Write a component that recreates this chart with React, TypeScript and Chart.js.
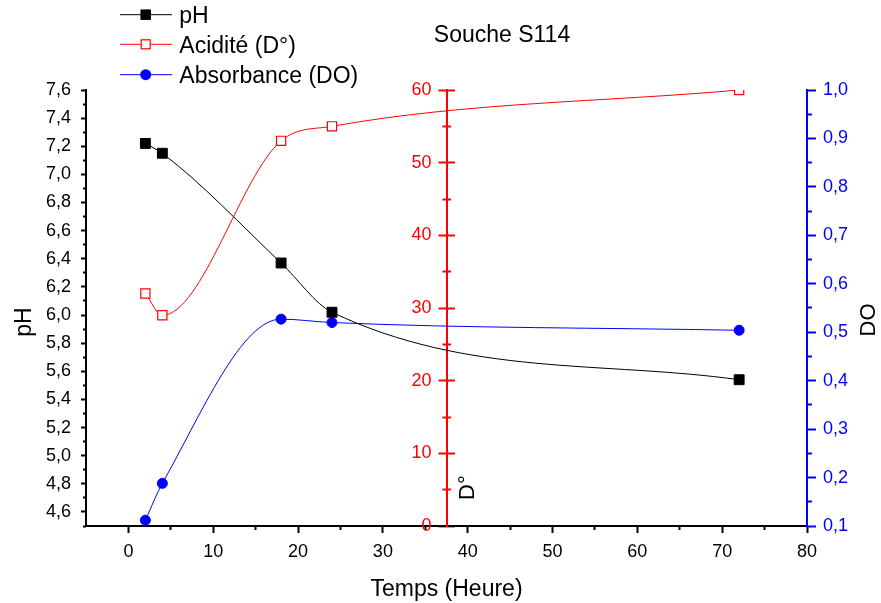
import React, { useEffect, useRef } from "react";
import { Chart, registerables } from "chart.js";

Chart.register(...registerables);

// ---- data ----
const hours = [2, 4, 18, 24, 72];
const phValues = [7.22, 7.15, 6.37, 6.02, 5.54];
const acidityValues = [32.0, 29.0, 53.0, 55.0, 60.0];
const absorbanceValues = [0.112, 0.188, 0.527, 0.52, 0.504];

// ---- ticks ----
const timeTicks = [0, 10, 20, 30, 40, 50, 60, 70, 80];
const timeMinorTicks = [5, 15, 25, 35, 45, 55, 65, 75];
const phTicks = [4.6, 4.8, 5.0, 5.2, 5.4, 5.6, 5.8, 6.0, 6.2, 6.4, 6.6, 6.8, 7.0, 7.2, 7.4, 7.6];
const phMinorTicks = [4.5, 4.7, 4.9, 5.1, 5.3, 5.5, 5.7, 5.9, 6.1, 6.3, 6.5, 6.7, 6.9, 7.1, 7.3, 7.5];
const acidityTicks = [0, 10, 20, 30, 40, 50, 60];
const acidityMinorTicks = [5, 15, 25, 35, 45, 55];
const doTicks = [0.1, 0.2, 0.3, 0.4, 0.5, 0.6, 0.7, 0.8, 0.9, 1.0];
const doMinorTicks = [0.15, 0.25, 0.35, 0.45, 0.55, 0.65, 0.75, 0.85, 0.95];

// ---- texts ----
const chartTitle = "Souche S114";
const xTitle = "Temps (Heure)";
const phTitle = "pH";
const acidityTitle = "D°";
const doTitle = "DO";
const seriesLabels = ["pH", "Acidité (D°)", "Absorbance (DO)"];
const acidityAxisAt = 37.5;

const FONT = "'Liberation Sans', Arial, Helvetica, sans-serif";
const BLACK = "#000000";
const RED = "#ff0000";
const BLUE = "#0000ff";
const TICK_FONT = { family: FONT, size: 18 };

const setTicks = (values: number[]) => (scale: any) => {
  scale.ticks = values.map((v) => ({ value: v }));
};
const comma = (v: any) => Number(v).toFixed(1).replace(".", ",");
const plain = (v: any) => String(Math.round(Number(v)));

function minorScale(axis: string, position: string, weight: number, min: number, max: number, values: number[], len: number, color: string) {
  return {
    type: "linear",
    axis,
    position,
    weight,
    min,
    max,
    afterBuildTicks: setTicks(values),
    afterFit: (s: any) => {
      if (axis === "x") s.height = 0;
      else s.width = 0;
    },
    grid: { drawOnChartArea: false, tickLength: len, tickWidth: 2, tickColor: color },
    border: { display: false },
    ticks: { display: false, autoSkip: false },
  };
}

const textPlugin = {
  id: "customTexts",
  afterLayout(chart: any) {
    const xs = chart.scales.x;
    const ax = xs.getPixelForValue(acidityAxisAt);
    const moves: [string, number][] = [
      ["yD", 8],
      ["yDMinor", 4],
      ["yDLine", 0],
    ];
    moves.forEach(([id, off]) => {
      const s = chart.scales[id];
      if (!s) return;
      s.right = ax + off;
      s.left = ax + off - 80;
      s.width = 80;
      s._gridLineItems = null;
      s._labelItems = null;
    });
  },
  afterDraw(chart: any) {
    const ctx = chart.ctx;
    ctx.save();
    // chart title
    ctx.fillStyle = BLACK;
    ctx.font = `23px ${FONT}`;
    ctx.textAlign = "center";
    ctx.textBaseline = "alphabetic";
    ctx.fillText(chartTitle, 502, 42);

    // rotated axis titles
    const rot = (text: string, x: number, y: number, align: CanvasTextAlign, size: number) => {
      ctx.save();
      ctx.translate(x, y);
      ctx.rotate(-Math.PI / 2);
      ctx.font = `${size}px ${FONT}`;
      ctx.textAlign = align;
      ctx.textBaseline = "alphabetic";
      ctx.fillStyle = BLACK;
      ctx.fillText(text, 0, 0);
      ctx.restore();
    };
    rot(phTitle, 31, 322, "center", 23);
    rot(acidityTitle, 474, 500, "left", 22);
    rot(doTitle, 875, 320, "center", 22);

    // legend
    const ds = chart.data.datasets;
    const rowsY = [14.7, 44.3, 74.7];
    ds.forEach((d: any, i: number) => {
      const y = rowsY[i];
      ctx.strokeStyle = d.borderColor;
      ctx.lineWidth = 1;
      ctx.beginPath();
      ctx.moveTo(120, y);
      ctx.lineTo(172, y);
      ctx.stroke();
      const cx = 145.7;
      ctx.lineWidth = 1.2;
      if (d.pointStyle === "circle") {
        ctx.beginPath();
        ctx.arc(cx, y, 5.5, 0, Math.PI * 2);
        ctx.fillStyle = d.pointBackgroundColor;
        ctx.fill();
      } else {
        ctx.fillStyle = d.pointBackgroundColor;
        ctx.fillRect(cx - 5, y - 5, 10, 10);
        ctx.strokeStyle = d.pointBorderColor;
        ctx.strokeRect(cx - 4.5, y - 4.5, 9, 9);
      }
      ctx.fillStyle = BLACK;
      ctx.font = `23px ${FONT}`;
      ctx.textAlign = "left";
      ctx.textBaseline = "alphabetic";
      ctx.fillText(d.label, 179.3, y + 8.5);
    });
    ctx.restore();
  },
};

export default function App() {
  const ref = useRef<HTMLCanvasElement | null>(null);

  useEffect(() => {
    if (!ref.current) return;
    const toPts = (vals: number[]) => hours.map((h, i) => ({ x: h, y: vals[i] }));
    const chart = new Chart(ref.current, {
      type: "line",
      data: {
        datasets: [
          {
            label: seriesLabels[0],
            data: toPts(phValues),
            xAxisID: "x",
            yAxisID: "y",
            borderColor: BLACK,
            borderWidth: 1,
            cubicInterpolationMode: "monotone",
            pointStyle: "rect",
            pointRadius: 7,
            pointBackgroundColor: BLACK,
            pointBorderColor: BLACK,
            pointBorderWidth: 1,
          },
          {
            label: seriesLabels[1],
            data: toPts(acidityValues),
            xAxisID: "x",
            yAxisID: "yD",
            borderColor: RED,
            borderWidth: 1,
            cubicInterpolationMode: "monotone",
            pointStyle: "rect",
            pointRadius: 6.5,
            pointBackgroundColor: "#ffffff",
            pointBorderColor: RED,
            pointBorderWidth: 1.2,
          },
          {
            label: seriesLabels[2],
            data: toPts(absorbanceValues),
            xAxisID: "x",
            yAxisID: "yDO",
            borderColor: BLUE,
            borderWidth: 1,
            cubicInterpolationMode: "monotone",
            pointStyle: "circle",
            pointRadius: 5,
            pointBackgroundColor: BLUE,
            pointBorderColor: BLUE,
            pointBorderWidth: 1,
          },
        ],
      },
      options: {
        responsive: false,
        animation: false,
        devicePixelRatio: 1,
        layout: { padding: { top: 90, left: 0, right: 0, bottom: 0 } },
        plugins: {
          legend: { display: false },
          title: { display: false },
          tooltip: { enabled: false },
        },
        scales: {
          x: {
            type: "linear",
            position: "bottom",
            weight: 10,
            min: -5,
            max: 80,
            afterBuildTicks: setTicks(timeTicks),
            afterFit: (s: any) => {
              s.height = 77;
            },
            grid: { drawOnChartArea: false, tickLength: 7, tickWidth: 2, tickColor: BLACK },
            border: { color: BLACK, width: 2 },
            ticks: { color: BLACK, font: TICK_FONT, padding: 8, autoSkip: false, maxRotation: 0, callback: plain },
            title: { display: true, text: xTitle, color: BLACK, font: { family: FONT, size: 23 }, padding: { top: 0, bottom: 0 } },
          },
          xMinor: minorScale("x", "bottom", 0, -5, 80, timeMinorTicks, 4, BLACK),
          y: {
            type: "linear",
            position: "left",
            weight: 10,
            min: 4.5,
            max: 7.6,
            afterBuildTicks: setTicks(phTicks),
            afterFit: (s: any) => {
              s.width = 86;
            },
            grid: { drawOnChartArea: false, tickLength: 5, tickWidth: 2, tickColor: BLACK },
            border: { color: BLACK, width: 2 },
            ticks: { color: BLACK, font: TICK_FONT, padding: 10, autoSkip: false, callback: comma },
          },
          yMinor: minorScale("y", "left", 5, 4.5, 7.6, phMinorTicks, 3, BLACK),
          yD: {
            type: "linear",
            axis: "y",
            position: "left",
            weight: 0,
            min: 0,
            max: 60,
            afterBuildTicks: setTicks(acidityTicks),
            afterFit: (s: any) => {
              s.width = 0;
            },
            grid: { drawOnChartArea: false, tickLength: 16, tickWidth: 2, tickColor: RED },
            border: { display: false },
            ticks: { color: RED, font: TICK_FONT, padding: 7, autoSkip: false, callback: plain },
          },
          yDMinor: minorScale("y", "left", 0, 0, 60, acidityMinorTicks, 8, RED),
          yDLine: {
            type: "linear",
            axis: "y",
            position: "left",
            weight: 0,
            min: 0,
            max: 60,
            afterBuildTicks: setTicks(acidityTicks),
            afterFit: (s: any) => {
              s.width = 0;
            },
            grid: { drawOnChartArea: false, drawTicks: false },
            border: { color: RED, width: 2 },
            ticks: { display: false },
          },
          yDO: {
            type: "linear",
            axis: "y",
            position: "right",
            weight: 10,
            min: 0.1,
            max: 1.0,
            afterBuildTicks: setTicks(doTicks),
            afterFit: (s: any) => {
              s.width = 74;
            },
            grid: { drawOnChartArea: false, tickLength: 9, tickWidth: 2, tickColor: BLUE },
            border: { color: BLUE, width: 2 },
            ticks: { color: BLUE, font: TICK_FONT, padding: 7, autoSkip: false, callback: comma },
          },
          yDOMinor: minorScale("y", "right", 0, 0.1, 1.0, doMinorTicks, 5, BLUE),
        },
      } as any,
      plugins: [textPlugin],
    });
    return () => chart.destroy();
  }, []);

  return (
    <div style={{ position: "fixed", left: 0, top: 0, width: 881, height: 603, background: "#ffffff" }}>
      <canvas ref={ref} width={881} height={603} style={{ display: "block" }} />
    </div>
  );
}
